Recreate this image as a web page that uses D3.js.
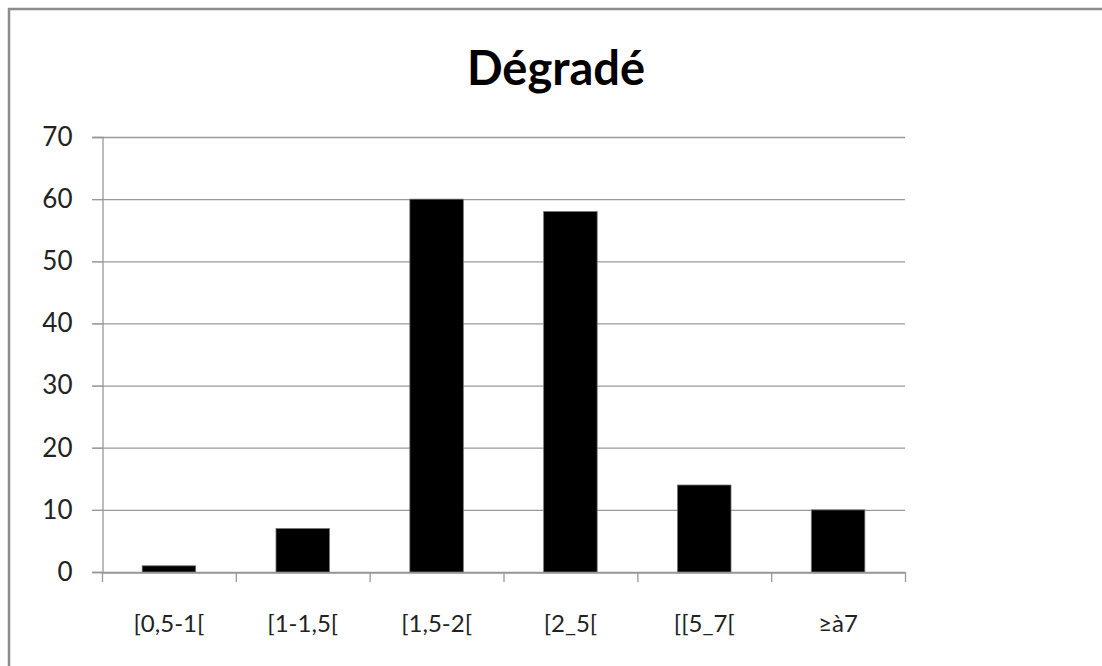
<!DOCTYPE html>
<html><head><meta charset="utf-8">
<script src="https://cdn.jsdelivr.net/npm/d3@7"></script>
<style>body{margin:0;background:#fff;}svg{display:block;}</style>
</head><body>
<script>
const categories = ["[0,5-1[", "[1-1,5[", "[1,5-2[", "[2_5[", "[[5_7[", "≥à7"];
const values = [1, 7, 60, 58, 14, 10];
const yTicks = [0, 10, 20, 30, 40, 50, 60, 70];
const title = "Dégradé";

(function () {
const W = 1102, H = 666;
const svg = d3.select("body").append("svg").attr("width", W).attr("height", H);
svg.append("rect").attr("width", W).attr("height", H).attr("fill", "#fff");
// outer chart border
svg.append("rect").attr("x", 9).attr("y", 9).attr("width", 1200).attr("height", 800)
  .attr("fill", "none").attr("stroke", "#8c8c8c").attr("stroke-width", 2.5);

const pLeft = 102, pRight = 905, pTop = 137, pBottom = 572;
const x = d3.scaleBand().domain(categories).range([pLeft, pRight]).paddingInner(0.6).paddingOuter(0.3);
const xb = d3.scaleBand().domain(categories).range([pLeft, pRight]);
const y = d3.scaleLinear().domain([0, 70]).range([pBottom, pTop]);
const font = "Lato, 'Open Sans', sans-serif";

// gridlines
svg.append("g").selectAll("line").data(yTicks).join("line")
  .attr("x1", pLeft - 10).attr("x2", pRight).attr("y1", d => y(d) + 0.5).attr("y2", d => y(d) + 0.5)
  .attr("stroke", "#999").attr("stroke-width", 1.3);

// y axis
const yAxis = svg.append("g").attr("transform", `translate(${pLeft + 0.5},0)`)
  .call(d3.axisLeft(y).tickValues(yTicks).tickSize(10).tickPadding(20));
yAxis.select(".domain").attr("stroke", "#999").attr("stroke-width", 1.3);
yAxis.selectAll(".tick line").attr("stroke", "#999");
yAxis.selectAll("text").attr("font-family", font).attr("font-size", 26).attr("fill", "#222");

// bars
svg.append("g").selectAll("rect").data(values).join("rect")
  .attr("x", (d, i) => x(categories[i])).attr("width", x.bandwidth())
  .attr("y", d => y(d)).attr("height", d => y(0) - y(d))
  .attr("fill", "#000").attr("stroke", "#777").attr("stroke-width", 0.8);

// x axis
const xAxis = svg.append("g").attr("transform", `translate(0,${pBottom + 0.5})`)
  .call(d3.axisBottom(xb).tickSize(0).tickPadding(42));
xAxis.select(".domain").attr("stroke", "#999").attr("stroke-width", 1.3);
xAxis.selectAll("text").attr("font-family", font).attr("font-size", 24).attr("fill", "#222");
// boundary ticks
const bounds = categories.map(c => xb(c)).concat([pRight]);
svg.append("g").selectAll("line").data(bounds).join("line")
  .attr("x1", d => d + 0.5).attr("x2", d => d + 0.5).attr("y1", pBottom).attr("y2", pBottom + 10)
  .attr("stroke", "#999").attr("stroke-width", 1.3);

svg.append("text").attr("x", 556).attr("y", 85).attr("text-anchor", "middle")
  .attr("font-family", font).attr("font-weight", "bold").attr("font-size", 47).attr("fill", "#000")
  .text(title);
})();
</script>
</body></html>
